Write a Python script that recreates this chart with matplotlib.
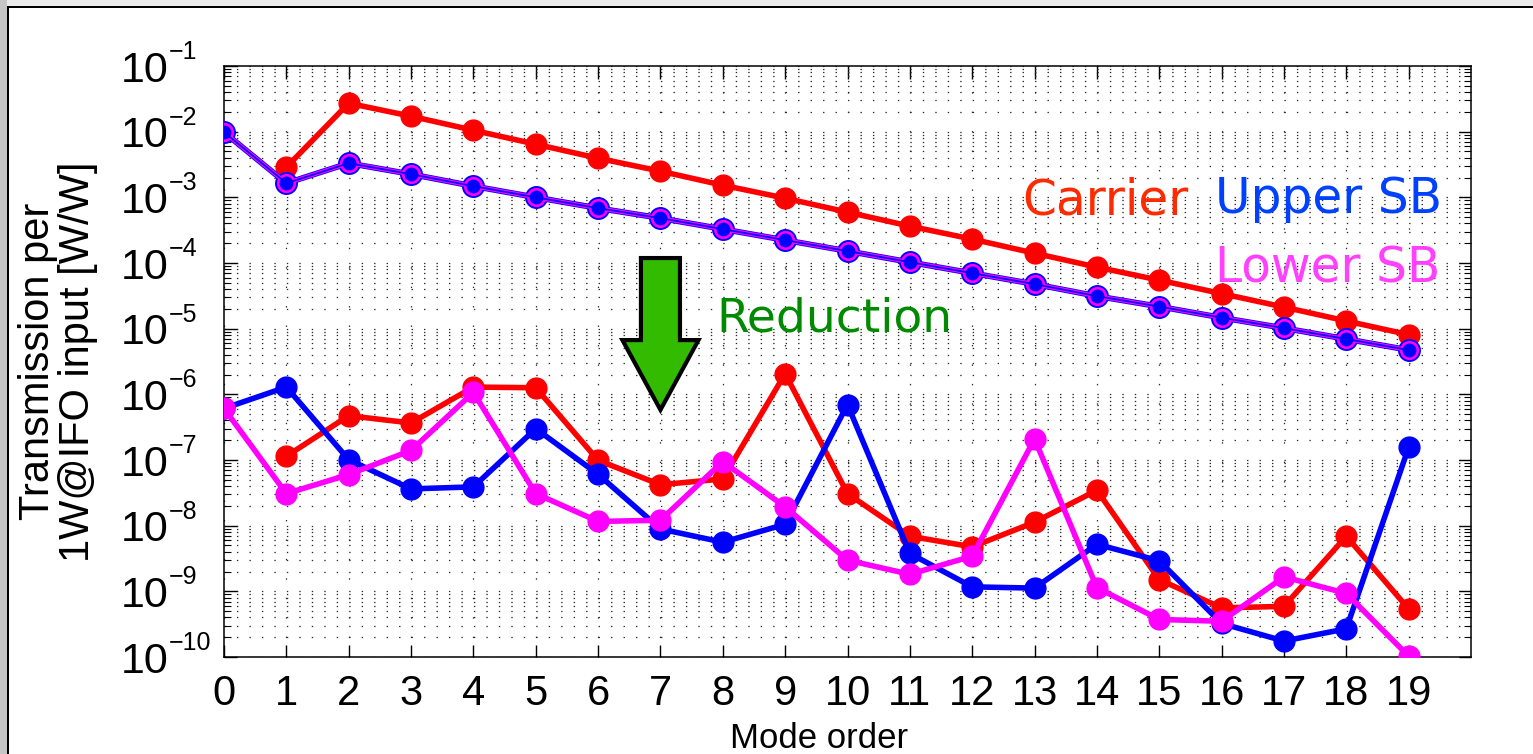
import numpy as np
import matplotlib
matplotlib.use("Agg")
import matplotlib.pyplot as plt
from matplotlib.patches import Polygon, Rectangle
from matplotlib.ticker import LogLocator, NullFormatter, MultipleLocator, FixedLocator

plt.rcParams['font.family'] = ['Liberation Sans', 'DejaVu Sans']
plt.rcParams['lines.scale_dashes'] = False

# ---------------- data ----------------
modes = list(range(20))
nan = np.nan

# before reduction (upper group)
carrier_before = [nan, 2.88e-3, 2.71e-2, 1.72e-2, 1.05e-2, 6.44e-3, 3.94e-3, 2.50e-3, 1.53e-3, 9.7e-4,
                  5.95e-4, 3.64e-4, 2.31e-4, 1.41e-4, 8.65e-5, 5.48e-5, 3.42e-5, 2.13e-5, 1.31e-5, 8.1e-6]
upper_sb_before = [9.8e-3, 1.64e-3, 3.31e-3, 2.25e-3, 1.48e-3, 1.00e-3, 6.84e-4, 4.82e-4, 3.28e-4, 2.23e-4,
                   1.52e-4, 1.03e-4, 7.0e-5, 4.77e-5, 3.13e-5, 2.17e-5, 1.47e-5, 1.02e-5, 6.95e-6, 4.73e-6]
lower_sb_before = [9.8e-3, 1.64e-3, 3.31e-3, 2.25e-3, 1.48e-3, 1.00e-3, 6.84e-4, 4.82e-4, 3.28e-4, 2.23e-4,
                   1.52e-4, 1.03e-4, 7.0e-5, 4.77e-5, 3.13e-5, 2.17e-5, 1.47e-5, 1.02e-5, 6.95e-6, 4.73e-6]

# after reduction (lower group)
carrier_after = [nan, 1.14e-7, 4.73e-7, 3.66e-7, 1.29e-6, 1.26e-6, 9.9e-8, 4.2e-8, 5.15e-8, 2.06e-6,
                 3.08e-8, 6.9e-9, 4.76e-9, 1.13e-8, 3.46e-8, 1.51e-9, 5.6e-10, 5.9e-10, 6.9e-9, 5.4e-10]
upper_sb_after = [6.1e-7, 1.29e-6, 1.01e-7, 3.63e-8, 3.9e-8, 3.0e-7, 6.05e-8, 8.9e-9, 5.6e-9, 1.05e-8,
                  6.97e-7, 3.77e-9, 1.17e-9, 1.12e-9, 5.2e-9, 2.92e-9, 3.24e-10, 1.75e-10, 2.69e-10, 1.56e-7]
lower_sb_after = [6.1e-7, 3.08e-8, 6.0e-8, 1.4e-7, 1.07e-6, 3.08e-8, 1.16e-8, 1.21e-8, 9.45e-8, 1.93e-8,
                  2.98e-9, 1.82e-9, 3.43e-9, 2.09e-7, 1.14e-9, 3.73e-10, 3.5e-10, 1.66e-9, 9.3e-10, 1.03e-10]

xtick_labels = [str(m) for m in modes]
ytick_exponents = [-10, -9, -8, -7, -6, -5, -4, -3, -2, -1]
legend_labels = ['Carrier', 'Upper SB', 'Lower SB']

# arrow annotation geometry (data coords)
arrow_x = 7.0
arrow_top, arrow_head_base, arrow_tip = 1.19e-4, 6.7e-6, 5.8e-7
arrow_body_hw, arrow_head_hw = 0.313, 0.61

# ---------------- figure ----------------
fig = plt.figure(figsize=(15.33, 7.54), dpi=100)
fig.patch.set_facecolor('white')

# slide frame (gray strips and black border lines)
W, H = 1533.0, 754.0
fig.add_artist(Rectangle((0, 1 - 6 / H), 1, 6 / H, transform=fig.transFigure,
                         facecolor='#ebebeb', edgecolor='none', zorder=0))
fig.add_artist(Rectangle((0, 0), 7 / W, 1, transform=fig.transFigure,
                         facecolor='#c6c6c6', edgecolor='none', zorder=0))
fig.add_artist(Rectangle((7 / W, 0), 2.2 / W, 1 - 6 / H, transform=fig.transFigure,
                         facecolor='black', edgecolor='none', zorder=1))
fig.add_artist(Rectangle((7 / W, 1 - 8.2 / H), 1, 2.2 / H, transform=fig.transFigure,
                         facecolor='black', edgecolor='none', zorder=1))

ax = fig.add_axes([224 / W, 1 - 657 / H, (1471 - 224) / W, (657 - 66) / H])
ax.set_yscale('log')
ax.set_xlim(0, 20)
ax.set_ylim(1e-10, 1e-1)

ax.xaxis.set_major_locator(FixedLocator(modes))
ax.xaxis.set_minor_locator(MultipleLocator(0.2))
ax.yaxis.set_major_locator(LogLocator(base=10, numticks=20))
ax.yaxis.set_minor_locator(LogLocator(base=10, subs=np.arange(2, 10), numticks=200))
ax.yaxis.set_minor_formatter(NullFormatter())
ax.yaxis.set_major_formatter(NullFormatter())

# dotted MATLAB-like grid
x_px_per_unit = (1471 - 224) / 20.0
period_pt = 0.2 * x_px_per_unit * 72 / 100.0
ax.grid(True, axis='y', which='both', color='#2a2a2a', linewidth=0.9,
        linestyle=(0, (1.0, period_pt - 1.0)))
ax.grid(True, axis='x', which='major', color='#2a2a2a', linewidth=0.9,
        linestyle=(0, (1.0, 13.0)))
ax.set_axisbelow(True)

ax.set_xticklabels(xtick_labels)
ax.tick_params(axis='both', which='major', direction='in', top=True, right=True,
               length=9, width=1.0, labelsize=30)
ax.tick_params(axis='y', which='minor', direction='in', left=True, right=True, length=5, width=0.8)
ax.tick_params(axis='x', which='minor', length=0)
ax.tick_params(axis='x', which='major', pad=12)
for sp in ax.spines.values():
    sp.set_linewidth(1.1)

# y tick labels as "10" with a raised exponent (MATLAB style)
for e in ytick_exponents:
    ax.annotate('10', xy=(0, 10.0 ** e), xycoords=('axes fraction', 'data'),
                xytext=(-40.2, -11.4), textcoords='offset points',
                ha='right', va='baseline', fontsize=31, annotation_clip=False)
    ax.annotate('\u2212' + str(abs(e)), xy=(0, 10.0 ** e), xycoords=('axes fraction', 'data'),
                xytext=(-40.0, 5.0), textcoords='offset points',
                ha='left', va='baseline', fontsize=18, annotation_clip=False)

# lower group (after reduction)
ax.plot(modes, carrier_after, color='#ff0000', lw=4.0, marker='o', ms=15, zorder=3)
ax.plot(modes, upper_sb_after, color='#0000ff', lw=4.0, marker='o', ms=15, zorder=4)
ax.plot(modes, lower_sb_after, color='#ff00ff', lw=4.0, marker='o', ms=15, zorder=5)

# upper group (before reduction)
ax.plot(modes, carrier_before, color='#ff0000', lw=4.0, marker='o', ms=15, zorder=3)
ax.plot(modes, upper_sb_before, color='#0000ff', lw=4.2, marker='o', ms=15.5, mec='#0000ff', zorder=6)
ax.plot(modes, lower_sb_before, color='#ff00ff', lw=3.0, marker='o', ms=13.8, mec='none', zorder=7)
ax.plot(modes, upper_sb_before, color='#0000ff', lw=1.3, marker='o', ms=10, mec='none', zorder=8)

# reduction arrow
verts = [(arrow_x - arrow_body_hw, arrow_top), (arrow_x + arrow_body_hw, arrow_top),
         (arrow_x + arrow_body_hw, arrow_head_base), (arrow_x + arrow_head_hw, arrow_head_base),
         (arrow_x, arrow_tip), (arrow_x - arrow_head_hw, arrow_head_base),
         (arrow_x - arrow_body_hw, arrow_head_base)]
ax.add_patch(Polygon(verts, closed=True, facecolor='#33bb00', edgecolor='black',
                     linewidth=3.0, joinstyle='miter', zorder=9))

# texts
txt_font = ['DejaVu Sans']
ax.text(0.395, 0.55, 'Reduction', transform=ax.transAxes, color='#008a00',
        fontsize=34, family=txt_font, va='baseline', ha='left', zorder=10)
ax.text(0.640, 0.748, legend_labels[0], transform=ax.transAxes, color='#ff2a00',
        fontsize=35, family=txt_font, va='baseline', ha='left', zorder=10)
ax.text(0.795, 0.751, legend_labels[1], transform=ax.transAxes, color='#0040ff',
        fontsize=35, family=txt_font, va='baseline', ha='left', zorder=10)
ax.text(0.795, 0.6345, legend_labels[2], transform=ax.transAxes, color='#ff40ff',
        fontsize=35, family=txt_font, va='baseline', ha='left', zorder=10)

ax.set_ylabel('Transmission per\n1W@IFO input [W/W]', fontsize=30, linespacing=1.0)
ax.yaxis.set_label_coords((58 - 224) / 1247, 0.5)
ax.yaxis.label.set_va('center')
ax.set_xlabel('Mode order', fontsize=25)
ax.xaxis.set_label_coords((819 - 224) / 1247, (657 - 738) / 591)
ax.xaxis.label.set_va('center')

fig.savefig('out.png', dpi=100)
